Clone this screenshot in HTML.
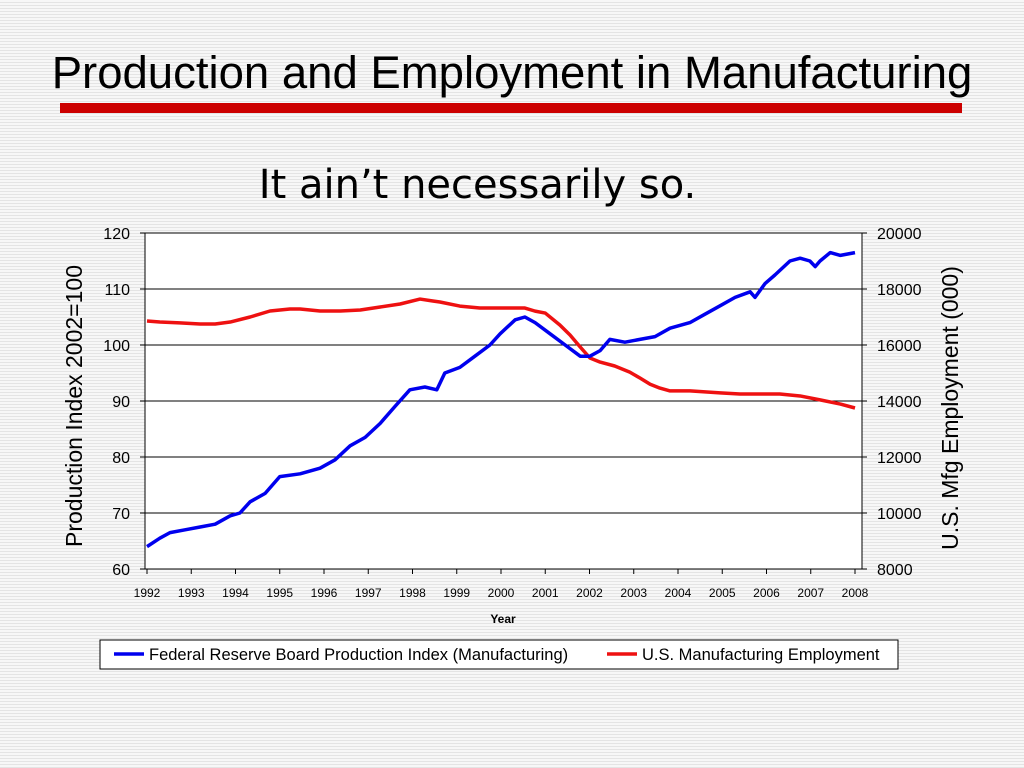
<!DOCTYPE html>
<html><head><meta charset="utf-8">
<style>
body{margin:0;width:1024px;height:768px;overflow:hidden;font-family:"Liberation Sans",sans-serif;
background:repeating-linear-gradient(180deg,#f7f7f7 0,#f7f7f7 2px,#e4e4e4 2px,#e4e4e4 3px);}
#title{position:absolute;left:0;width:1024px;top:47px;text-align:center;font-size:45.5px;color:#000}
#bar{position:absolute;left:60px;top:103px;width:902px;height:10px;background:#cc0000}
#sub{position:absolute;left:0;width:955px;top:162px;text-align:center;font-family:"DejaVu Sans",sans-serif;font-size:40px}
svg{position:absolute;left:0;top:0}
</style></head><body>
<div id="title">Production and Employment in Manufacturing</div>
<div id="bar"></div>
<div id="sub">It ain’t necessarily so.</div>
<svg width="1024" height="768" id="chart"></svg>
<script>
const yearLabels=["1992","1993","1994","1995","1996","1997","1998","1999","2000","2001","2002","2003","2004","2005","2006","2007","2008"];
const leftTicks=[60,70,80,90,100,110,120];
const rightTicks=[8000,10000,12000,14000,16000,18000,20000];
const prodYears=[1992.0,1992.29,1992.52,1992.86,1993.2,1993.54,1993.88,1994.1,1994.33,1994.67,1995.0,1995.46,1995.91,1996.25,1996.59,1996.93,1997.27,1997.6,1997.94,1998.28,1998.55,1998.73,1999.07,1999.41,1999.75,1999.98,2000.32,2000.54,2000.77,2001.11,2001.45,2001.79,2002.01,2002.24,2002.46,2002.8,2003.14,2003.48,2003.82,2004.27,2004.61,2004.95,2005.29,2005.63,2005.74,2005.97,2006.19,2006.53,2006.76,2006.98,2007.1,2007.21,2007.44,2007.67,2008.0];
const prodValues=[64,65.5,66.5,67,67.5,68,69.5,70,72,73.5,76.5,77,78,79.5,82,83.5,86,89,92,92.5,92,95,96,98,100,102,104.5,105,104,102,100,98,98,99,101,100.5,101,101.5,103,104,105.5,107,108.5,109.5,108.5,111,112.5,115,115.5,115,114,115,116.5,116,116.5];
const empYears=[1992.0,1992.29,1992.74,1993.2,1993.54,1993.88,1994.33,1994.78,1995.23,1995.46,1995.91,1996.37,1996.82,1997.27,1997.72,1998.17,1998.46,1998.62,1999.07,1999.52,1999.98,2000.54,2000.77,2001.0,2001.33,2001.56,2001.79,2002.01,2002.24,2002.57,2002.91,2003.14,2003.37,2003.59,2003.82,2004.27,2004.95,2005.4,2005.85,2006.3,2006.76,2007.21,2007.67,2008.0];
const empValues=[16857,16820,16790,16750,16750,16820,17000,17214,17285,17285,17214,17214,17250,17357,17464,17640,17570,17535,17390,17320,17320,17320,17210,17140,16715,16357,15930,15535,15390,15250,15030,14820,14600,14460,14360,14360,14290,14250,14250,14250,14180,14040,13890,13750];
const ns="http://www.w3.org/2000/svg";
const svg=document.getElementById('chart');
const X0=145,X1=862,Y0=569,Y1=233,XA=147,XB=855;
const xs=y=>XA+(y-1992)*(XB-XA)/16;
const yl=v=>Y0-(v-60)*(Y0-Y1)/60;
const yr=v=>Y0-(v-8000)*(Y0-Y1)/12000;
function mk(t,a,txt){const e=document.createElementNS(ns,t);for(const k in a)e.setAttribute(k,a[k]);if(txt!=null)e.textContent=txt;svg.appendChild(e);return e;}
const plot=mk('rect',{x:X0,y:Y1,width:X1-X0,height:Y0-Y1,fill:'#fff',stroke:'#000','stroke-width':1});


leftTicks.forEach((v,i)=>{
 const y=yl(v);
 if(v>60&&v<120){const g=mk('line',{x1:X0,x2:X1,y1:y,y2:y,stroke:'#000','stroke-width':1});
 
 }
 mk('line',{x1:X0-5,x2:X0,y1:y,y2:y,stroke:'#000'});
 const t=mk('text',{x:X0-15,y:y+6,'text-anchor':'end','font-size':16},v);
 
 
});
rightTicks.forEach(v=>{
 const y=yr(v);
 mk('line',{x1:X1,x2:X1+5,y1:y,y2:y,stroke:'#000'});
 const t=mk('text',{x:X1+15,y:y+6,'font-size':16},v);
 
 
});
yearLabels.forEach(l=>{
 const x=xs(+l);
 mk('line',{x1:x,x2:x,y1:Y0,y2:Y0+5,stroke:'#000'});
 const t=mk('text',{x:x,y:597,'text-anchor':'middle','font-size':12},l);
 
 
});
const xt=mk('text',{x:503,y:623,'text-anchor':'middle','font-size':12,'font-weight':'bold'},'Year');


const lt=mk('text',{x:0,y:0,'text-anchor':'middle','font-size':23,transform:'translate(82,406) rotate(-90)'},'Production Index 2002=100');


const rt=mk('text',{x:0,y:0,'text-anchor':'middle','font-size':23,transform:'translate(958,408) rotate(-90)'},'U.S. Mfg Employment (000)');


const ep=mk('polyline',{points:empYears.map((y,i)=>xs(y)+','+yr(empValues[i])).join(' '),fill:'none',stroke:'#ee1111','stroke-width':3.5,'stroke-linejoin':'round'});


const pp=mk('polyline',{points:prodYears.map((y,i)=>xs(y)+','+yl(prodValues[i])).join(' '),fill:'none',stroke:'#0000ee','stroke-width':3.5,'stroke-linejoin':'round'});


const lg=mk('rect',{x:100,y:640,width:798,height:29,fill:'#fff',stroke:'#000'});


mk('line',{x1:114,x2:144,y1:654,y2:654,stroke:'#0000ee','stroke-width':3.5});
const l1=mk('text',{x:149,y:660,'font-size':16.5},'Federal Reserve Board Production Index (Manufacturing)');


mk('line',{x1:607,x2:637,y1:654,y2:654,stroke:'#ee1111','stroke-width':3.5});
const l2=mk('text',{x:642,y:660,'font-size':16.5},'U.S. Manufacturing Employment');


</script>
</body></html>
